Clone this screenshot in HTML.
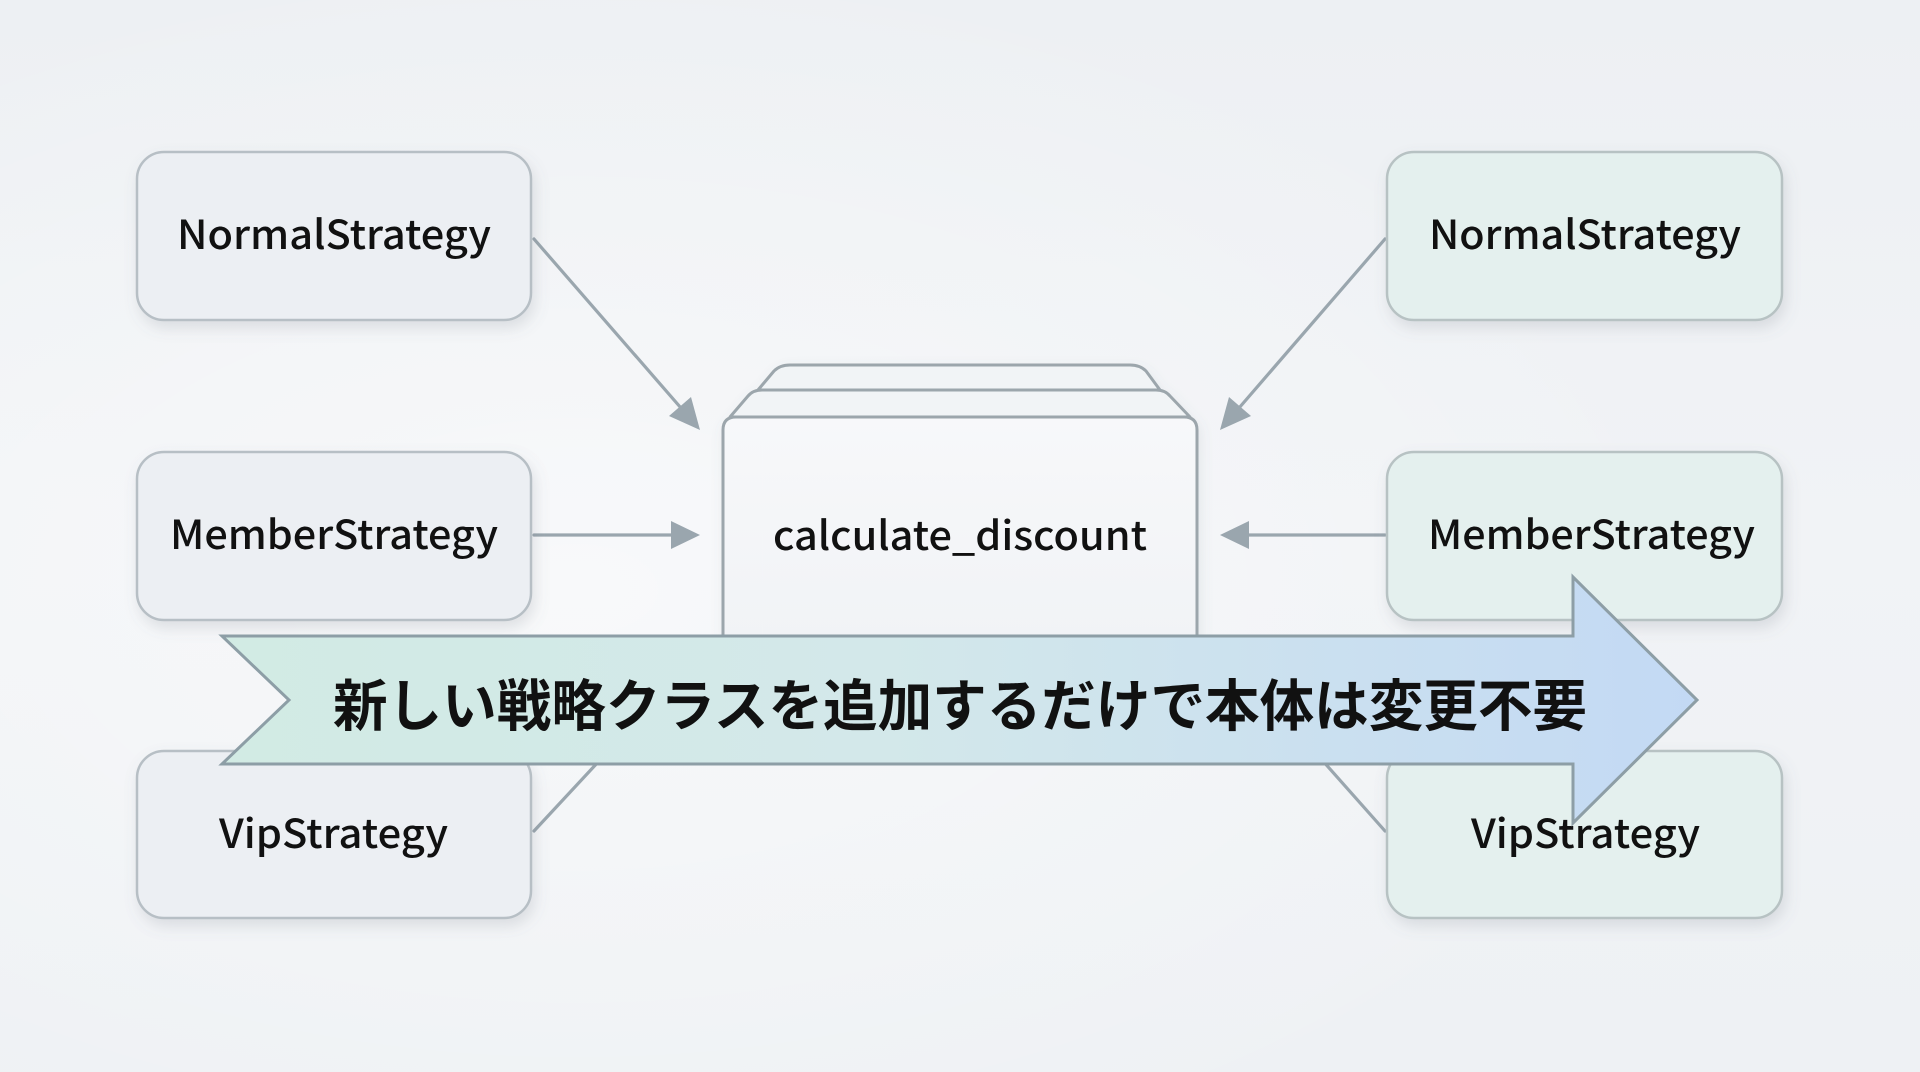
<!DOCTYPE html>
<html>
<head>
<meta charset="utf-8">
<style>
  html, body { margin:0; padding:0; }
  body { width:1920px; height:1072px; overflow:hidden; background:#eff2f5; }
  svg { display:block; }
  .lbl { font-family: "Noto Sans CJK JP", "Liberation Sans", sans-serif; }
  .jp { font-family: "Liberation Sans", "Noto Sans CJK JP", sans-serif; }
</style>
</head>
<body>
<svg width="1920" height="1072" viewBox="0 0 1920 1072" xmlns="http://www.w3.org/2000/svg">
  <defs>
    <linearGradient id="bg" x1="0" y1="0" x2="0" y2="1">
      <stop offset="0" stop-color="#edf0f3"/>
      <stop offset="0.5" stop-color="#f1f3f6"/>
      <stop offset="1" stop-color="#eef1f4"/>
    </linearGradient>
    <radialGradient id="glow" cx="0.3" cy="0.55" r="0.6">
      <stop offset="0" stop-color="#ffffff" stop-opacity="0.5"/>
      <stop offset="1" stop-color="#ffffff" stop-opacity="0"/>
    </radialGradient>
    <linearGradient id="banner" x1="0" y1="0" x2="1" y2="0">
      <stop offset="0" stop-color="#d2ebe4"/>
      <stop offset="0.45" stop-color="#d3e8ea"/>
      <stop offset="1" stop-color="#c3d9f4"/>
    </linearGradient>
    <linearGradient id="body" x1="0" y1="0" x2="0" y2="1">
      <stop offset="0" stop-color="#f7f8fa"/>
      <stop offset="1" stop-color="#f1f3f6"/>
    </linearGradient>
    <filter id="sh" x="-10%" y="-10%" width="125%" height="140%">
      <feDropShadow dx="3" dy="7" stdDeviation="7" flood-color="#6a7680" flood-opacity="0.18"/>
    </filter>
    <filter id="sh2" x="-10%" y="-10%" width="125%" height="140%">
      <feDropShadow dx="2" dy="5" stdDeviation="6" flood-color="#6a7680" flood-opacity="0.12"/>
    </filter>
  </defs>

  <rect width="1920" height="1072" fill="url(#bg)"/>
  <rect width="1920" height="1072" fill="url(#glow)"/>

  <!-- connectors -->
  <g stroke="#9aa6ae" stroke-width="3.2" fill="none" stroke-linecap="round">
    <line x1="534" y1="239" x2="681" y2="408"/>
    <line x1="534" y1="535" x2="674" y2="535"/>
    <line x1="534" y1="831" x2="600" y2="760"/>
    <line x1="1385" y1="239" x2="1239" y2="408"/>
    <line x1="1385" y1="535" x2="1246" y2="535"/>
    <line x1="1385" y1="831" x2="1322" y2="760"/>
  </g>
  <g fill="#9aa6ae">
    <polygon points="700,430 669,416 691,397"/>
    <polygon points="700,535 671,521 671,549"/>
    <polygon points="1220,430 1251,416 1229,397"/>
    <polygon points="1220,535 1249,521 1249,549"/>
  </g>

  <!-- left boxes -->
  <g filter="url(#sh)" stroke="#b7bfc5" stroke-width="2.5" fill="#eceff3">
    <rect x="137" y="152" width="394" height="168" rx="27"/>
    <rect x="137" y="452" width="394" height="168" rx="27"/>
    <rect x="137" y="751" width="394" height="167" rx="27"/>
  </g>
  <!-- right boxes -->
  <g filter="url(#sh)" stroke="#b7c2c3" stroke-width="2.5" fill="#e4f0ee">
    <rect x="1387" y="152" width="395" height="168" rx="27"/>
    <rect x="1387" y="452" width="395" height="168" rx="27"/>
    <rect x="1387" y="751" width="395" height="167" rx="27"/>
  </g>

  <!-- center component -->
  <g filter="url(#sh2)" stroke="#9ca6ac" stroke-width="3" stroke-linejoin="round">
    <path d="M758,390 L774,371 Q780,365 790,365 L1130,365 Q1140,365 1146,371 L1160,390 Z" fill="#f1f4f6"/>
    <path d="M730,417 L748,396 Q753,390 762,390 L1156,390 Q1165,390 1170,396 L1190,417 Z" fill="#f1f4f6"/>
    <path d="M723,640 L723,430 Q723,417 736,417 L1184,417 Q1197,417 1197,430 L1197,640" fill="url(#body)"/>
  </g>

  <!-- labels -->
  <g class="lbl" font-size="40" font-weight="500" fill="#111" text-anchor="start">
    <text x="177" y="249" textLength="314" lengthAdjust="spacingAndGlyphs">NormalStrategy</text>
    <text x="170" y="549" textLength="328" lengthAdjust="spacingAndGlyphs">MemberStrategy</text>
    <text x="219" y="848" textLength="229" lengthAdjust="spacingAndGlyphs">VipStrategy</text>
    <text x="773" y="550" textLength="374" lengthAdjust="spacingAndGlyphs">calculate_discount</text>
    <text x="1429" y="249" textLength="312" lengthAdjust="spacingAndGlyphs">NormalStrategy</text>
    <text x="1428" y="549" textLength="327" lengthAdjust="spacingAndGlyphs">MemberStrategy</text>
    <text x="1471" y="848" textLength="229" lengthAdjust="spacingAndGlyphs">VipStrategy</text>
  </g>

  <!-- banner arrow -->
  <polygon points="222,636 1573,636 1573,577 1697,700 1573,823 1573,764 222,764 289,700"
           fill="url(#banner)" stroke="#8d9ea6" stroke-width="3" stroke-linejoin="miter"/>
  <text class="jp" x="333" y="726" font-size="56" font-weight="700" fill="#111"
        textLength="1254" lengthAdjust="spacingAndGlyphs">新しい戦略クラスを追加するだけで本体は変更不要</text>
</svg>
</body>
</html>
